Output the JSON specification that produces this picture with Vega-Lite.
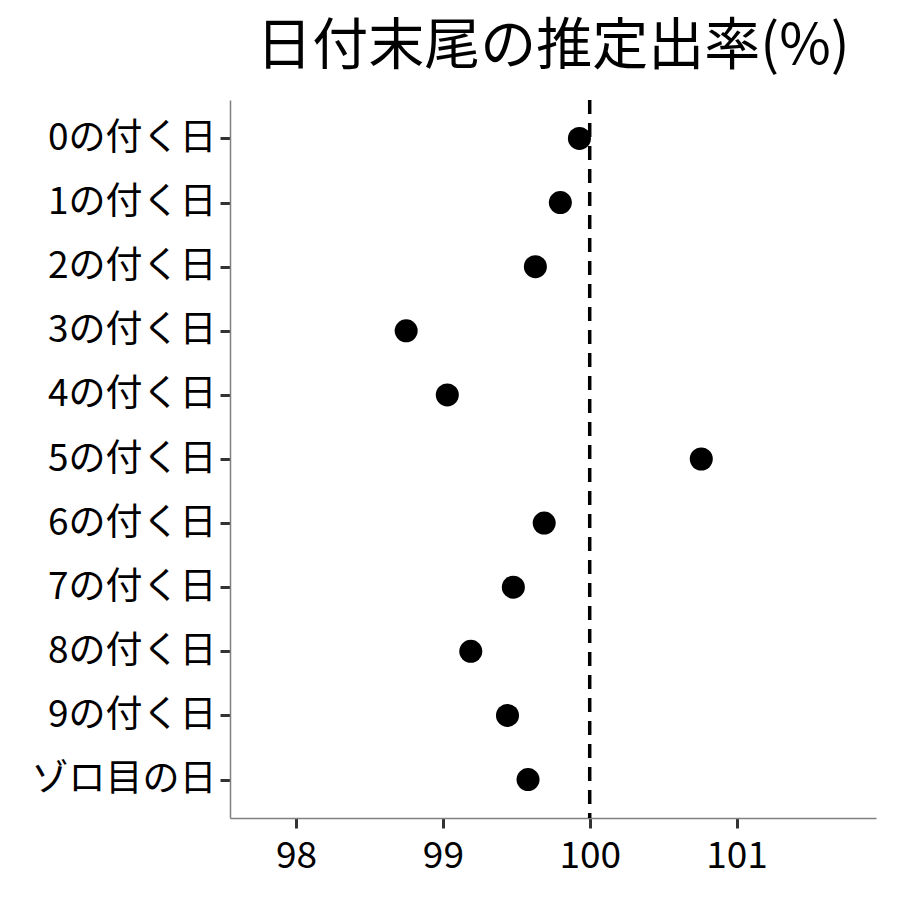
{
  "$schema": "https://vega.github.io/schema/vega-lite/v6.json",
  "autosize": "none",
  "width": 646,
  "height": 718,
  "padding": {"left": 230, "top": 100, "right": 24, "bottom": 82},
  "background": "white",
  "title": {"text": "日付末尾の推定出率(%)", "font": "Noto Sans CJK JP", "fontSize": 56, "fontWeight": "normal", "color": "black", "anchor": "middle", "frame": "group", "offset": 22},
  "config": {"view": {"stroke": null}},
  "datasets": {
    "pts": [
      {"label": "0の付く日", "rate": 99.93},
      {"label": "1の付く日", "rate": 99.80},
      {"label": "2の付く日", "rate": 99.63},
      {"label": "3の付く日", "rate": 98.75},
      {"label": "4の付く日", "rate": 99.03},
      {"label": "5の付く日", "rate": 100.76},
      {"label": "6の付く日", "rate": 99.69},
      {"label": "7の付く日", "rate": 99.48},
      {"label": "8の付く日", "rate": 99.19},
      {"label": "9の付く日", "rate": 99.44},
      {"label": "ゾロ目の日", "rate": 99.58}
    ],
    "ref": [{"v": 100}]
  },
  "layer": [
    {
      "data": {"name": "ref"},
      "mark": {"type": "rule", "color": "black", "strokeWidth": 3.5, "strokeDash": [14, 9]},
      "encoding": {"x": {"field": "v", "type": "quantitative", "scale": {"domain": [97.55, 101.95], "nice": false, "zero": false}}}
    },
    {
      "data": {"name": "pts"},
      "mark": {"type": "point", "filled": true, "shape": "circle", "color": "black", "opacity": 1, "size": 530},
      "encoding": {
        "x": {
          "field": "rate", "type": "quantitative",
          "scale": {"domain": [97.55, 101.95], "nice": false, "zero": false},
          "axis": {"title": null, "values": [98, 99, 100, 101], "format": "d", "grid": false, "labelFont": "Noto Sans CJK JP", "labelFontSize": 37, "labelColor": "black", "labelPadding": 10, "tickColor": "#333333", "tickWidth": 3, "tickSize": 10, "domainColor": "#808080", "domainWidth": 1.5}
        },
        "y": {
          "field": "label", "type": "nominal", "sort": null,
          "scale": {"type": "point", "padding": 0.6},
          "axis": {"title": null, "grid": false, "labelFont": "Noto Sans CJK JP", "labelFontSize": 37, "labelLimit": 0, "labelColor": "black", "labelPadding": 4, "tickColor": "#333333", "tickWidth": 3, "tickSize": 10, "domainColor": "#808080", "domainWidth": 1.5}
        }
      }
    }
  ]
}
